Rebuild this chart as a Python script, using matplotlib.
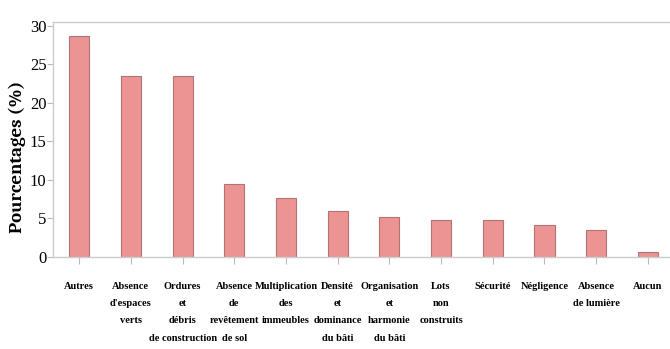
import matplotlib.pyplot as plt

categories = [
    "Autres",
    "Absence\nd'espaces\nverts",
    "Ordures\net\ndébris\nde construction",
    "Absence\nde\nrevêtement\nde sol",
    "Multiplication\ndes\nimmeubles",
    "Densité\net\ndominance\ndu bâti",
    "Organisation\net\nharmonie\ndu bâti",
    "Lots\nnon\nconstruits",
    "Sécurité",
    "Négligence",
    "Absence\nde lumière",
    "Aucun",
]
percentages = [28.7, 23.4, 23.4, 9.4, 7.6, 5.9, 5.2, 4.7, 4.7, 4.1, 3.5, 0.6]
yticks = [0, 5, 10, 15, 20, 25, 30]

fig = plt.figure(figsize=(6.7, 3.49), dpi=100)
ax = fig.add_axes([0.0796, 0.2645, 0.926, 0.672])

x = range(len(categories))
ax.bar(x, percentages, width=0.39, color="#EC9494", edgecolor="#B57272", linewidth=0.8)

ax.set_xlim(-0.5, len(categories) - 0.5)
ax.set_ylim(0, 30.45)
ax.set_yticks(yticks)
ax.set_yticklabels([str(v) for v in yticks], family="Liberation Serif", fontsize=12)
ax.set_xticks(list(x))
ax.set_xticklabels(categories, family="Liberation Serif", fontweight="bold",
                   fontsize=7.5, linespacing=2.2, va="top")

ax.tick_params(axis="x", length=5, color="#BBBBBB", pad=13)
ax.tick_params(axis="y", length=4, color="#BBBBBB", pad=1)

for side in ["top", "bottom", "left"]:
    ax.spines[side].set_color("#CCCCCC")
    ax.spines[side].set_linewidth(1.0)
ax.spines["right"].set_visible(False)

fig.text(17 / 670, 1 - 157 / 349, "Pourcentages (%)", family="Caladea",
         fontweight="bold", fontsize=13.5, rotation=90, ha="center", va="center")

fig.savefig("out.png", dpi=100)
